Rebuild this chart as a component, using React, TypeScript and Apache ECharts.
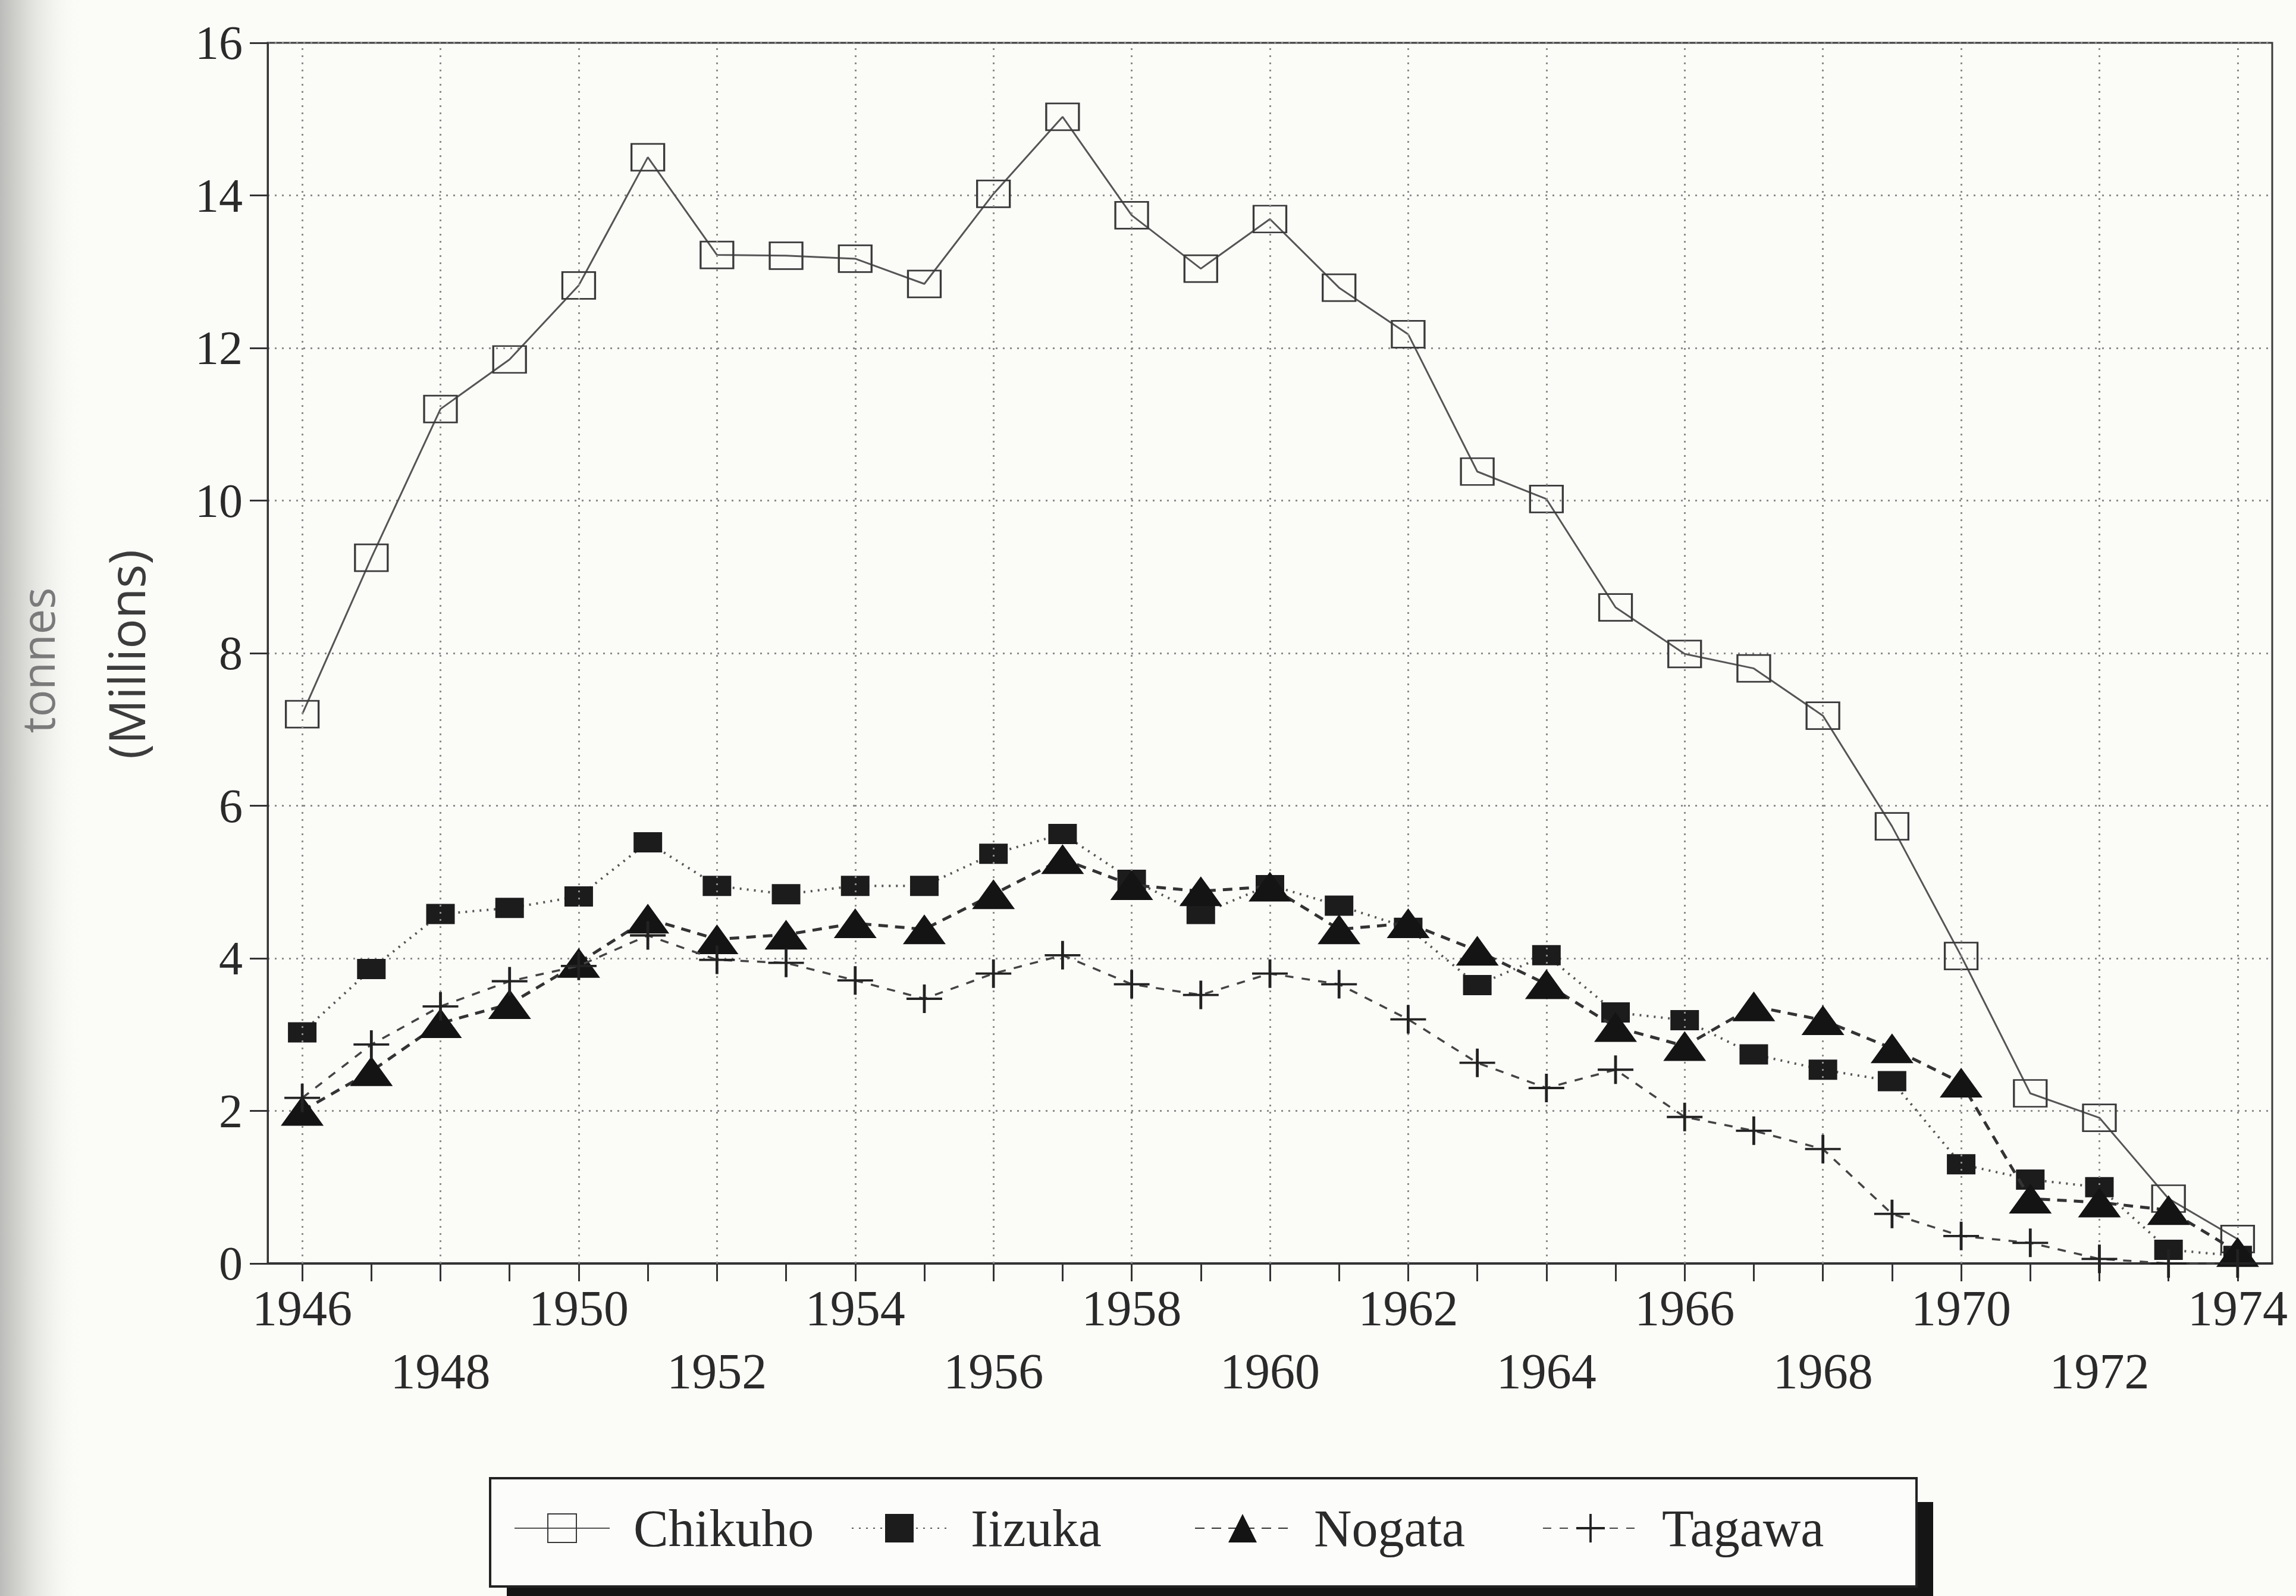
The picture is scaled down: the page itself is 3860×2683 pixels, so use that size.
import React, { useEffect, useRef } from 'react';
import * as echarts from 'echarts';

// ---- Data (million tonnes) ----
const years = [
  '1946', '1947', '1948', '1949', '1950', '1951', '1952', '1953', '1954', '1955',
  '1956', '1957', '1958', '1959', '1960', '1961', '1962', '1963', '1964', '1965',
  '1966', '1967', '1968', '1969', '1970', '1971', '1972', '1973', '1974',
];

const chikuho = [
  7.2, 9.25, 11.2, 11.85, 12.82, 14.5, 13.22, 13.21, 13.17, 12.84,
  14.02, 15.03, 13.74, 13.04, 13.69, 12.79, 12.18, 10.38, 10.02, 8.6,
  7.99, 7.8, 7.18, 5.73, 4.03, 2.23, 1.91, 0.85, 0.32,
];

const iizuka = [
  3.03, 3.86, 4.58, 4.66, 4.81, 5.52, 4.95, 4.84, 4.95, 4.95,
  5.37, 5.63, 5.03, 4.58, 4.96, 4.69, 4.4, 3.65, 4.04, 3.29,
  3.19, 2.74, 2.54, 2.39, 1.3, 1.1, 1.0, 0.18, 0.1,
];

const nogata = [
  2.0, 2.52, 3.15, 3.4, 3.94, 4.52, 4.25, 4.31, 4.46, 4.38,
  4.84, 5.3, 4.96, 4.88, 4.94, 4.38, 4.46, 4.1, 3.66, 3.1,
  2.85, 3.37, 3.19, 2.82, 2.37, 0.85, 0.8, 0.7, 0.15,
];

const tagawa = [
  2.17, 2.87, 3.37, 3.7, 3.9, 4.3, 3.98, 3.94, 3.71, 3.47,
  3.8, 4.04, 3.66, 3.52, 3.8, 3.66, 3.2, 2.63, 2.3, 2.54,
  1.92, 1.74, 1.5, 0.65, 0.36, 0.27, 0.06, 0.0, 0.0,
];

const seriesNames = ['Chikuho', 'Iizuka', 'Nogata', 'Tagawa'];

// vertical dotted grid lines sit on every second year
const gridYears = [
  '1946', '1948', '1950', '1952', '1954', '1956', '1958', '1960',
  '1962', '1964', '1966', '1968', '1970', '1972', '1974',
];

const SERIF = '"Liberation Serif", "Times New Roman", serif';
const SANS = '"Open Sans", "DejaVu Sans", sans-serif';
const CROSS = 'path://M0,46 L100,46 L100,54 L0,54 Z M46,0 L54,0 L54,100 L46,100 Z';

const TEXT = '#2a2a2a';
const GRIDLINE = { color: '#8c8c8c', width: 3, type: [3, 9] as number[] };

// left edge of each legend entry (legend entries are evenly spaced in the box)
const legendLefts = [864, 1431, 2008, 2593];

function buildOption(): any {
  return {
    animation: false,
    backgroundColor: '#fbfbf8',
    grid: {
      left: 450,
      right: 40,
      top: 72,
      bottom: 559,
      show: true,
      borderColor: '#3a3a3a',
      borderWidth: 3,
      backgroundColor: 'transparent',
      outerBoundsMode: 'none',
    },
    xAxis: {
      type: 'category',
      data: years,
      boundaryGap: true,
      axisLine: { show: true, lineStyle: { color: '#333', width: 4 } },
      axisTick: {
        show: true,
        interval: 0,
        alignWithLabel: true,
        length: 30,
        lineStyle: { color: '#333', width: 3 },
      },
      axisLabel: {
        interval: 0,
        hideOverlap: false,
        margin: 22,
        fontFamily: SERIF,
        fontSize: 84,
        lineHeight: 106,
        color: TEXT,
        formatter: (value: string, index: number) => {
          if (index % 4 === 0) return value;
          if (index % 4 === 2) return '\n' + value;
          return '';
        },
      },
      splitLine: { show: false },
    },
    yAxis: {
      type: 'value',
      min: 0,
      max: 16,
      interval: 2,
      axisLine: { show: true, lineStyle: { color: '#333', width: 3 } },
      axisTick: { show: true, length: 30, lineStyle: { color: '#333', width: 3 } },
      axisLabel: { fontFamily: SERIF, fontSize: 80, color: TEXT, margin: 42 },
      splitLine: { show: true, lineStyle: GRIDLINE },
    },
    legend: seriesNames.map((name, i) => ({
      data: [name],
      orient: 'horizontal',
      left: legendLefts[i],
      top: 2525,
      padding: 0,
      itemWidth: 160,
      itemHeight: 60,
      selectedMode: false,
      z: 10,
      textStyle: {
        fontFamily: SERIF,
        fontSize: 88,
        color: TEXT,
        padding: [0, 0, 0, 35],
      },
    })),
    graphic: [
      {
        type: 'rect',
        silent: true,
        z: 0,
        shape: { x: 0, y: 0, width: 140, height: 2683 },
        style: {
          fill: new echarts.graphic.LinearGradient(0, 0, 1, 0, [
            { offset: 0, color: '#bcbcba' },
            { offset: 0.3, color: '#dadad6' },
            { offset: 1, color: 'rgba(251,251,248,0)' },
          ]),
        },
      },
      {
        type: 'rect',
        silent: true,
        z: 1,
        shape: { x: 852, y: 2525, width: 2398, height: 182 },
        style: { fill: '#151515' },
      },
      {
        type: 'rect',
        silent: true,
        z: 2,
        shape: { x: 824, y: 2485, width: 2398, height: 182 },
        style: { fill: '#fcfcfa', stroke: '#222', lineWidth: 4 },
      },
      {
        type: 'text',
        silent: true,
        x: 62,
        y: 1110,
        rotation: Math.PI / 2,
        style: {
          text: 'tonnes',
          fontFamily: SANS,
          fontSize: 76,
          fill: '#7a7a7a',
          align: 'center',
          verticalAlign: 'middle',
        },
      },
      {
        type: 'text',
        silent: true,
        x: 211,
        y: 1100,
        rotation: Math.PI / 2,
        style: {
          text: '(Millions)',
          fontFamily: SANS,
          fontSize: 84,
          fill: '#3c3c3c',
          align: 'center',
          verticalAlign: 'middle',
        },
      },
    ],
    series: [
      {
        type: 'line',
        name: '__grid',
        data: [],
        silent: true,
        z: 1,
        markLine: {
          silent: true,
          animation: false,
          symbol: ['none', 'none'],
          label: { show: false },
          emphasis: { disabled: true },
          lineStyle: GRIDLINE,
          data: gridYears.map((y) => ({ xAxis: y })),
        },
      },
      {
        type: 'line',
        name: 'Chikuho',
        data: chikuho,
        symbol: 'rect',
        symbolSize: [55, 45],
        showAllSymbol: true,
        itemStyle: { color: 'rgba(255,255,255,0)', borderColor: '#3a3a3a', borderWidth: 3 },
        lineStyle: { color: '#555', width: 3, type: 'solid' },
        z: 3,
      },
      {
        type: 'line',
        name: 'Iizuka',
        data: iizuka,
        symbol: 'rect',
        symbolSize: [48, 34],
        showAllSymbol: true,
        itemStyle: { color: '#1c1c1c' },
        lineStyle: { color: '#555', width: 4, type: [3, 9] },
        z: 4,
      },
      {
        type: 'line',
        name: 'Nogata',
        data: nogata,
        symbol: 'triangle',
        symbolSize: [72, 50],
        showAllSymbol: true,
        itemStyle: { color: '#141414' },
        lineStyle: { color: '#333', width: 5, type: [16, 12] },
        z: 5,
      },
      {
        type: 'line',
        name: 'Tagawa',
        data: tagawa,
        symbol: CROSS,
        symbolSize: [60, 48],
        showAllSymbol: true,
        itemStyle: { color: '#222' },
        lineStyle: { color: '#444', width: 3.5, type: [14, 14] },
        z: 6,
      },
    ],
  };
}

export default function App() {
  const ref = useRef<HTMLDivElement>(null);
  useEffect(() => {
    if (!ref.current) return;
    const chart = echarts.init(ref.current, null, { renderer: 'svg', width: 3860, height: 2683 });
    chart.setOption(buildOption());
    return () => {
      chart.dispose();
    };
  }, []);
  return (
    <div
      ref={ref}
      style={{ position: 'fixed', left: 0, top: 0, width: 3860, height: 2683, margin: 0 }}
    />
  );
}
